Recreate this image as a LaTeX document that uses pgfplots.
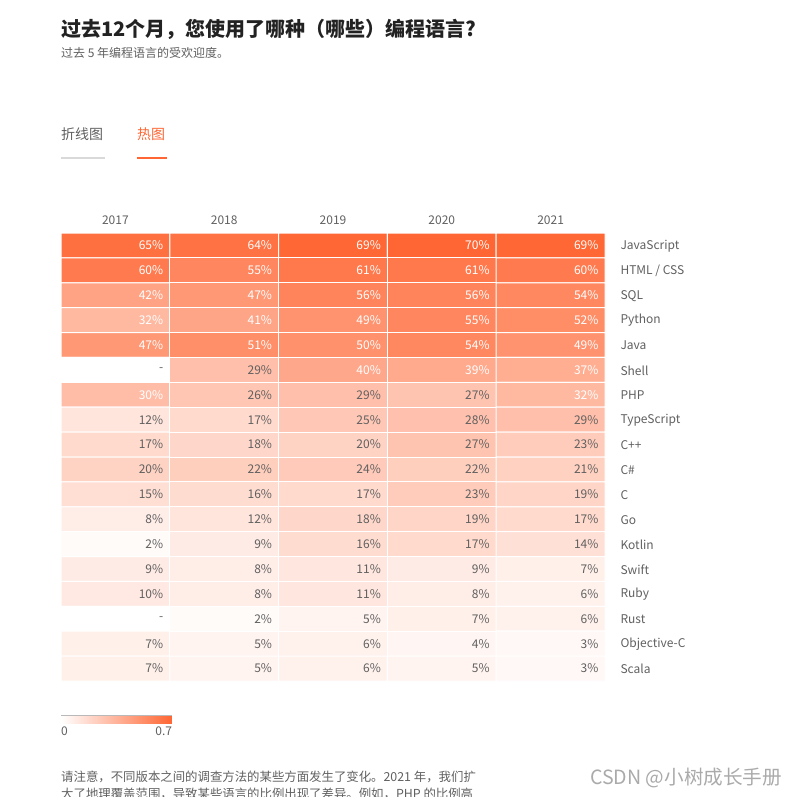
\documentclass[border=0pt]{standalone}
\usepackage{pgfplots}
\pgfplotsset{compat=1.18}
\usepackage{pgfplotstable}
\usepackage{fontspec}
\setmainfont{Noto Sans CJK SC}
\definecolor{hot}{RGB}{255,102,51}
\definecolor{txt}{RGB}{96,96,96}
\definecolor{ttl}{RGB}{34,34,34}
\definecolor{wm}{RGB}{170,170,170}
\definecolor{tabline}{RGB}{217,217,217}

% x = year index (0=2017 ... 4=2021), y = row index (0=JavaScript ... 17=Scala), v = percent (0 = no data)
\pgfplotstableread{
x y v
0 0 65
1 0 64
2 0 69
3 0 70
4 0 69
0 1 60
1 1 55
2 1 61
3 1 61
4 1 60
0 2 42
1 2 47
2 2 56
3 2 56
4 2 54
0 3 32
1 3 41
2 3 49
3 3 55
4 3 52
0 4 47
1 4 51
2 4 50
3 4 54
4 4 49
0 5 0
1 5 29
2 5 40
3 5 39
4 5 37
0 6 30
1 6 26
2 6 29
3 6 27
4 6 32
0 7 12
1 7 17
2 7 25
3 7 28
4 7 29
0 8 17
1 8 18
2 8 20
3 8 27
4 8 23
0 9 20
1 9 22
2 9 24
3 9 22
4 9 21
0 10 15
1 10 16
2 10 17
3 10 23
4 10 19
0 11 8
1 11 12
2 11 18
3 11 19
4 11 17
0 12 2
1 12 9
2 12 16
3 12 17
4 12 14
0 13 9
1 13 8
2 13 11
3 13 9
4 13 7
0 14 10
1 14 8
2 14 11
3 14 8
4 14 6
0 15 0
1 15 2
2 15 5
3 15 7
4 15 6
0 16 7
1 16 5
2 16 6
3 16 4
4 16 3
0 17 7
1 17 5
2 17 6
3 17 5
4 17 3
}\heat

\begin{document}
\begin{tikzpicture}
\useasboundingbox (0,0) rectangle (798pt,796pt);
% title block
\node[anchor=base west, inner sep=0, text=ttl, font=\fontsize{20}{24}\selectfont\bfseries] at (61pt,759pt) {过去12个月，您使用了哪种（哪些）编程语言?};
\node[anchor=base west, inner sep=0, text=txt, font=\fontsize{12}{14}\selectfont] at (61pt,738pt) {过去 5 年编程语言的受欢迎度。};
% tabs
\node[anchor=base west, inner sep=0, text=txt, font=\fontsize{14}{16}\selectfont] at (61pt,656pt) {折线图};
\node[anchor=base west, inner sep=0, text=hot, font=\fontsize{14}{16}\selectfont] at (137pt,656pt) {热图};
\draw[tabline, line width=1.5pt] (61pt,638pt) -- (105pt,638pt);
\draw[hot, line width=2.5pt] (137pt,638pt) -- (167pt,638pt);

\begin{axis}[
  at={(61pt,115pt)}, anchor=south west,
  scale only axis, width=544pt, height=448pt,
  xmin=-0.5, xmax=4.5, ymin=-0.5, ymax=17.5, y dir=reverse,
  axis line style={draw=none}, major tick length=0pt,
  xtick={0,...,4}, xticklabels={2017,2018,2019,2020,2021},
  xticklabel pos=top,
  ytick={0,...,17},
  yticklabels={JavaScript,HTML / CSS,SQL,Python,Java,Shell,PHP,TypeScript,C++,C\#,C,Go,Kotlin,Swift,Ruby,Rust,Objective-C,Scala},
  yticklabel pos=right,
  ticklabel style={font=\fontsize{12}{14}\selectfont, text=txt},
  yticklabel style={anchor=west, xshift=12pt, yshift=-0.5pt},
  xticklabel style={yshift=5pt},
  /pgf/number format/assume math mode=true,
  colormap={heat}{rgb255=(255,255,255) rgb255=(255,102,51)},
  point meta min=0, point meta max=70,
  colorbar horizontal,
  colorbar style={
    at={(parent axis.south west)}, anchor=north west, yshift=-26pt,
    scale only axis, width=111pt, height=8pt,
    xtick={0,70}, xticklabels={\makebox[0pt][l]{0},\makebox[0pt][r]{0.7}},
    xticklabel pos=bottom, major tick length=0pt,
    axis line style={draw=none},
    xticklabel style={font=\fontsize{12}{14}\selectfont, text=txt, yshift=0pt},
    ytick=\empty,
    /pgf/number format/assume math mode=true,
  },
  clip=false,
]
\addplot[matrix plot, shader=faceted, faceted color=white, line width=1pt, mesh/cols=5, point meta=explicit] table[x=x, y=y, meta=v] {\heat};
% labels with white text (>= 30%)
\addplot[draw=none, point meta=explicit,
  nodes near coords={\pgfmathprintnumber{\pgfplotspointmeta}\%},
  nodes near coords align={anchor=east},
  every node near coord/.append style={anchor=east, xshift=48pt, inner sep=0pt, text=white, font=\fontsize{12}{14}\selectfont}]
  table[x=x, y expr={\thisrow{v}>=30 ? \thisrow{y} : nan}, meta=v] {\heat};
% labels with gray text (< 30%)
\addplot[draw=none, point meta=explicit,
  nodes near coords={\pgfmathprintnumber{\pgfplotspointmeta}\%},
  nodes near coords align={anchor=east},
  every node near coord/.append style={anchor=east, xshift=48pt, inner sep=0pt, text=txt, font=\fontsize{12}{14}\selectfont}]
  table[x=x, y expr={and(\thisrow{v}<30, \thisrow{v}>0) ? \thisrow{y} : nan}, meta=v] {\heat};
% missing values
\addplot[draw=none,
  nodes near coords={-},
  nodes near coords align={anchor=east},
  every node near coord/.append style={anchor=east, xshift=48pt, inner sep=0pt, text=txt, font=\fontsize{12}{14}\selectfont}]
  coordinates {(0,5) (0,15)};
\end{axis}
% thin edge under the colour bar
\draw[gray!55, line width=0.8pt] (61pt,81pt) -- (172pt,81pt);

% footnote and watermark
\node[anchor=base west, inner sep=0, text=txt, font=\fontsize{12.4}{14}\selectfont] at (61pt,15pt) {请注意，不同版本之间的调查方法的某些方面发生了变化。2021 年，我们扩};
\node[anchor=base west, inner sep=0, text=txt, font=\fontsize{12.4}{14}\selectfont] at (61pt,-2pt) {大了地理覆盖范围，导致某些语言的比例出现了差异。例如，PHP 的比例高};
\node[anchor=base west, inner sep=0, text=wm, font=\fontsize{19.6}{22}\selectfont] at (590pt,12pt) {CSDN @小树成长手册};
\end{tikzpicture}
\end{document}
